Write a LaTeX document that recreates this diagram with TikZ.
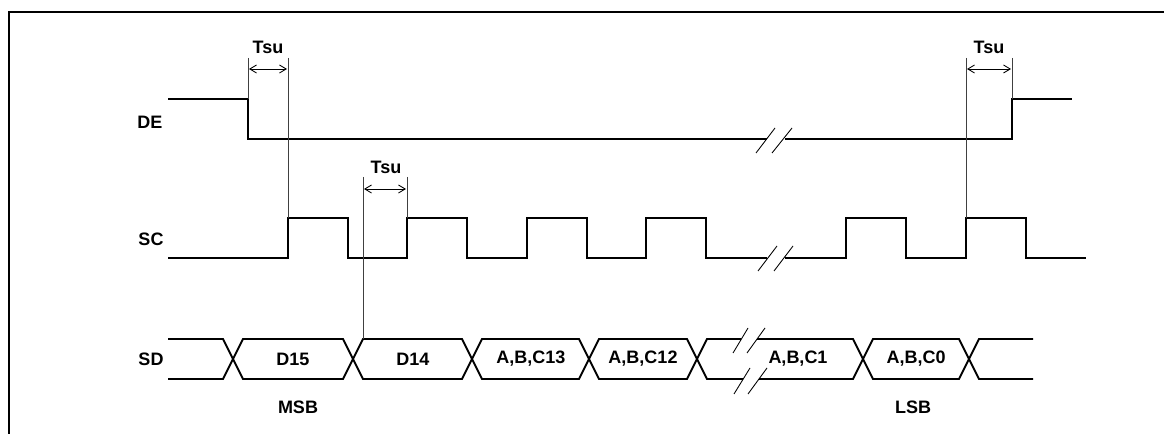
\documentclass[tikz,border=0pt]{standalone}
\usepackage{fontspec}
\setmainfont{Liberation Sans}
\usetikzlibrary{arrows.meta}
\begin{document}
\begin{tikzpicture}[x=0.75pt,y=-0.75pt,
  sig/.style={line width=1.45pt,line join=miter,line cap=butt},
  brk/.style={line width=0.65pt},
  refl/.style={line width=0.65pt,black!75},
  dim/.style={line width=0.65pt,{Straight Barb[length=5pt,width=6pt]}-{Straight Barb[length=5pt,width=6pt]}},
  lbl/.style={font=\fontsize{13.5}{15}\selectfont\bfseries,inner sep=0pt},
  frame/.style={line width=1.6pt}]
\useasboundingbox (0,0) rectangle (1164,434);
\clip (0,0) rectangle (1164,434);
% frame
\draw[frame] (9,450) -- (9,12) -- (1180,12);
% labels
\node[lbl] (lde) at (150,122) {DE};
\node[lbl] (lsc) at (151,239) {SC};
\node[lbl] (lsd) at (151,359) {SD};
% DE
\draw[sig] (168,99) -- (248,99) -- (248,139) -- (767,139);
\draw[sig] (785,139) -- (1012,139) -- (1012,99) -- (1072,99);
\draw[brk] (756,153) -- (775,128) (772,153) -- (792,128);
% SC
\draw[sig] (168,258) -- (288,258) -- (288,218) -- (348,218) -- (348,258) -- (407,258) -- (407,218) -- (467,218) -- (467,258) -- (527,258) -- (527,218) -- (587,218) -- (587,258) -- (646,258) -- (646,218) -- (706,218) -- (706,258) -- (767,258);
\draw[sig] (785,258) -- (846,258) -- (846,218) -- (906,218) -- (906,258) -- (966,258) -- (966,218) -- (1026,218) -- (1026,258) -- (1086,258);
\draw[brk] (758,271) -- (777,246) (774,271) -- (793,246);
% SD
\draw[sig] (168,339) -- (223,339) -- (243,379) -- (343,379) -- (363,339) -- (462,339) -- (482,379) -- (579,379) -- (599,339) -- (687,339) -- (707,379) -- (743,379);
\draw[sig] (759,379) -- (853,379) -- (873,339) -- (959,339) -- (979,379) -- (1033,379);
\draw[sig] (168,379) -- (223,379) -- (243,339) -- (343,339) -- (363,379) -- (462,379) -- (482,339) -- (579,339) -- (599,379) -- (687,379) -- (707,339) -- (741,339);
\draw[sig] (757,339) -- (853,339) -- (873,379) -- (959,379) -- (979,339) -- (1033,339);
\draw[brk] (733,353) -- (748,328) (747,353) -- (765,328);
\draw[brk] (734,394) -- (750,368) (748,394) -- (767,368);
% data labels
\node[lbl] (d15) at (293,359) {D15};
\node[lbl] (d14) at (413,359) {D14};
\node[lbl] (c13) at (531,359) {A,B,C13};
\node[lbl] (c12) at (643,359) {A,B,C12};
\node[lbl] (c1) at (798,359) {A,B,C1};
\node[lbl] (c0) at (916,359) {A,B,C0};
\node[lbl] (msb) at (298,407) {MSB};
\node[lbl] (lsb) at (913,407) {LSB};
% reference lines
\coordinate (r1t) at (248,58); \coordinate (r1b) at (248,99);
\coordinate (r2t) at (288,58); \coordinate (r2b) at (288,218);
\coordinate (r3t) at (363,177); \coordinate (r3b) at (363,339);
\coordinate (r4t) at (407,177); \coordinate (r4b) at (407,218);
\coordinate (r5t) at (966,58); \coordinate (r5b) at (966,218);
\coordinate (r6t) at (1012,58); \coordinate (r6b) at (1012,99);
\draw[refl] (r1t) -- (r1b);
\draw[refl] (r2t) -- (r2b);
\draw[refl] (r3t) -- (r3b);
\draw[refl] (r4t) -- (r4b);
\draw[refl] (r5t) -- (r5b);
\draw[refl] (r6t) -- (r6b);
% Tsu arrows
\coordinate (a1l) at (249,69); \coordinate (a1r) at (287,69);
\coordinate (a2l) at (364,189); \coordinate (a2r) at (406,189);
\coordinate (a3l) at (967,69); \coordinate (a3r) at (1011,69);
\draw[dim] (a1l) -- (a1r);
\draw[dim] (a2l) -- (a2r);
\draw[dim] (a3l) -- (a3r);
\node[lbl] (tsu1) at (268,47) {Tsu};
\node[lbl] (tsu2) at (386,167) {Tsu};
\node[lbl] (tsu3) at (989,47) {Tsu};
\end{tikzpicture}
\end{document}
